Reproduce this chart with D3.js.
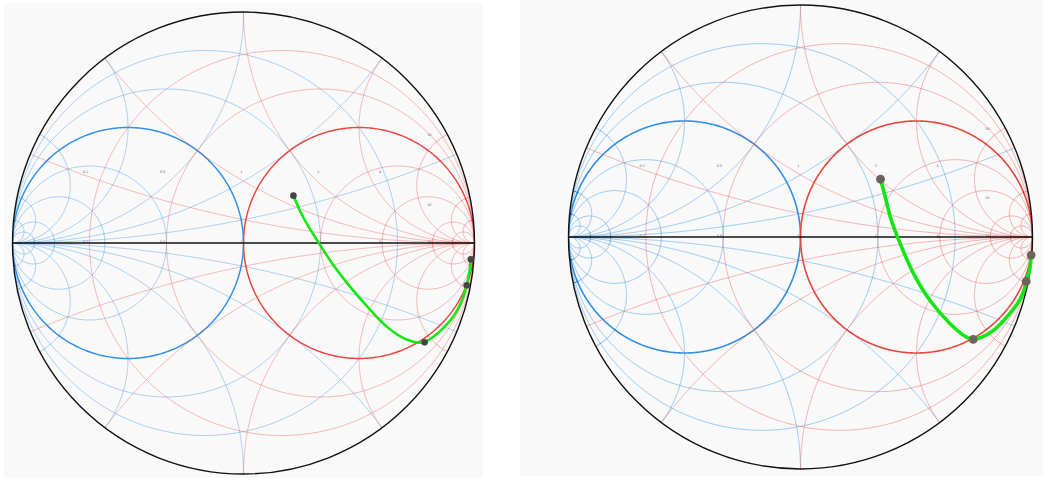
<!DOCTYPE html>
<html><head><meta charset="utf-8">
<script src="https://cdn.jsdelivr.net/npm/d3@7"></script>
<style>body{margin:0;background:#fff}svg{display:block}</style>
</head><body>
<svg id="c" width="1052" height="480"></svg>
<script>
// grid values (normalised resistance / reactance, conductance / susceptance)
const gridValues = [0.2, 0.5, 1, 2, 4, 10, 20];
const boldValue = 1;
// label values and their rows
const labelValues = ["0.2", "0.5", "1", "2", "4", "10"];
const labelNums = [0.2, 0.5, 1, 2, 4, 10];

// left chart trace (reflection coefficient)
const leftRe = [0.216, 0.262, 0.327, 0.392, 0.461, 0.540, 0.620, 0.680, 0.735, 0.765, 0.784, 0.822, 0.868, 0.908, 0.945, 0.966, 0.978, 0.984];
const leftIm = [0.205, 0.105, -0.001, -0.100, -0.189, -0.280, -0.362, -0.405, -0.427, -0.432, -0.430, -0.406, -0.365, -0.319, -0.250, -0.183, -0.125, -0.071];
const leftMarkRe = [0.216, 0.784, 0.966, 0.984];
const leftMarkIm = [0.205, -0.430, -0.183, -0.071];

// right chart trace
const rightRe = [0.345, 0.366, 0.388, 0.431, 0.489, 0.560, 0.647, 0.719, 0.745, 0.780, 0.819, 0.862, 0.905, 0.940, 0.962, 0.973, 0.989, 0.994];
const rightIm = [0.249, 0.170, 0.083, -0.032, -0.161, -0.276, -0.376, -0.434, -0.441, -0.432, -0.412, -0.375, -0.326, -0.280, -0.233, -0.191, -0.132, -0.078];
const rightMarkRe = [0.345, 0.745, 0.973, 0.994];
const rightMarkIm = [0.249, -0.441, -0.191, -0.078];

const svg = d3.select("#c");

function gamma(r, x) { // z -> reflection coefficient
  const d = (r + 1) * (r + 1) + x * x;
  return [(r * r + x * x - 1) / d, (2 * x) / d];
}

function drawChart(opt) {
  const {px, py, pw, ph, cx, cy, R, id, lw, re, im, mre, mim, tw, mr, markColor} = opt;
  svg.append("rect").attr("x", px).attr("y", py).attr("width", pw).attr("height", ph).attr("fill", "#f9f9f9");
  const sx = d3.scaleLinear().domain([-1, 1]).range([cx - R, cx + R]);
  const sy = d3.scaleLinear().domain([-1, 1]).range([cy + R, cy - R]);
  const g = svg.append("g");
  g.append("clipPath").attr("id", id).append("circle").attr("cx", cx).attr("cy", cy).attr("r", R);
  const grid = g.append("g").attr("clip-path", `url(#${id})`);
  const line = d3.line().x(d => sx(d[0])).y(d => sy(d[1]));
  const N = 700;
  const ts = d3.range(N + 1).map(i => -Math.PI / 2 + 1e-4 + (Math.PI - 2e-4) * i / N);
  const ts2 = d3.range(N + 1).map(i => (Math.PI / 2 - 1e-4) * i / N);
  function family(sign, light, bold) {
    const fg = grid.append("g").attr("fill", "none");
    gridValues.forEach(v => {
      const ptsR = ts.map(t => { const p = gamma(v, Math.tan(t)); return [sign * p[0], sign * p[1]]; });
      fg.append("path").attr("d", line(ptsR))
        .attr("stroke", v === boldValue ? bold : light)
        .attr("stroke-width", v === boldValue ? lw * 1.6 : lw);
      [v, -v].forEach(xv => {
        const ptsX = ts2.map(t => { const p = gamma(Math.tan(t), xv); return [sign * p[0], sign * p[1]]; });
        fg.append("path").attr("d", line(ptsX)).attr("stroke", light).attr("stroke-width", lw);
      });
    });
  }
  family(-1, "rgba(70,160,235,0.5)", "#2f8fe6");
  family(1, "rgba(240,90,90,0.45)", "#e8463c");
  const lab = g.append("g").attr("font-family", "DejaVu Sans").attr("font-size", 3.4).attr("fill", "#666");
  labelNums.forEach((v, i) => {
    const gx = (v - 1) / (v + 1);
    const rows = v === 10 ? [0, 0.16, 0.46] : [0, 0.3];
    rows.forEach(gy => {
      lab.append("text").attr("x", sx(gx) - 1).attr("y", sy(gy) - 0.5).attr("text-anchor", "end").text(labelValues[i]);
    });
  });
  g.append("line").attr("x1", sx(-1)).attr("x2", sx(1)).attr("y1", sy(0)).attr("y2", sy(0))
    .attr("stroke", "#111").attr("stroke-width", 1.5);
  g.append("circle").attr("cx", cx).attr("cy", cy).attr("r", R).attr("fill", "none")
    .attr("stroke", "#111").attr("stroke-width", 1.4);
  const pts = re.map((v, i) => [v, im[i]]);
  g.append("path").attr("d", d3.line().x(d => sx(d[0])).y(d => sy(d[1])).curve(d3.curveCatmullRom)(pts))
    .attr("fill", "none").attr("stroke", "#14e614").attr("stroke-width", tw).attr("stroke-linecap", "round");
  g.selectAll(null).data(mre.map((v, i) => [v, mim[i]])).join("circle")
    .attr("cx", d => sx(d[0])).attr("cy", d => sy(d[1])).attr("r", mr).attr("fill", markColor);
}

drawChart({px: 4, py: 3, pw: 479, ph: 475, cx: 243.5, cy: 243, R: 231, id: "clipL", lw: 0.9,
  re: leftRe, im: leftIm, mre: leftMarkRe, mim: leftMarkIm, tw: 2.6, mr: 3.3, markColor: "#454545"});
drawChart({px: 520, py: 0, pw: 523, ph: 476, cx: 800.5, cy: 237, R: 232, id: "clipR", lw: 1.0,
  re: rightRe, im: rightIm, mre: rightMarkRe, mim: rightMarkIm, tw: 3.6, mr: 4.4, markColor: "#6d655d"});
</script>
</body></html>
